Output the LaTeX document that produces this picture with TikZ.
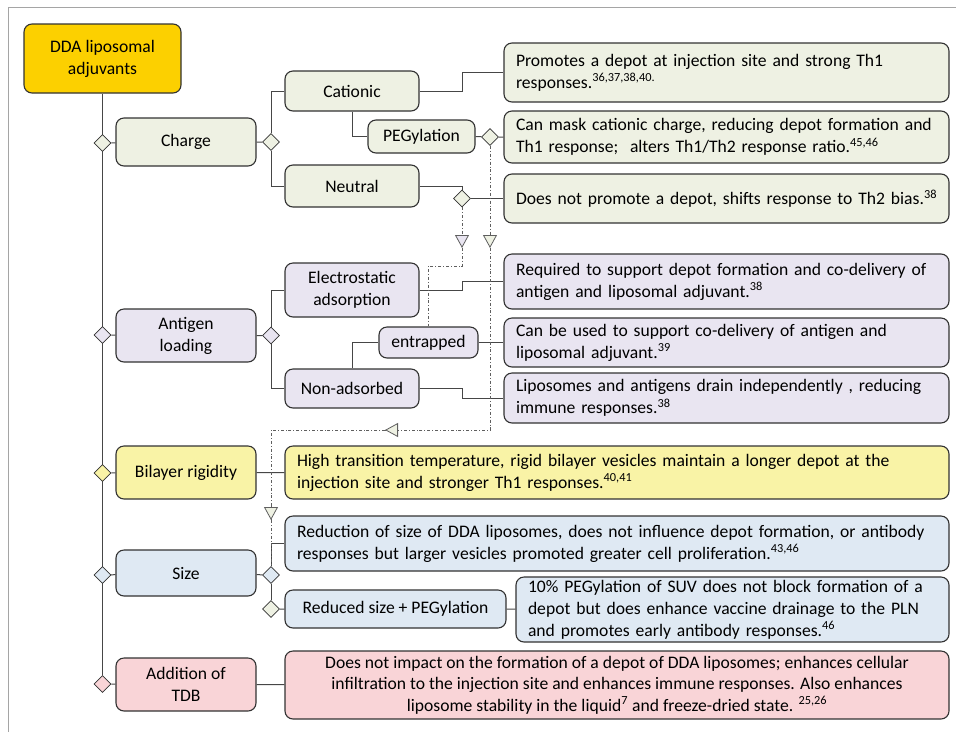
\documentclass[tikz,border=0pt]{standalone}
\usepackage{fontspec}
\setmainfont{Carlito}
\usetikzlibrary{shapes.geometric,arrows.meta,backgrounds}

\definecolor{rootfill}{RGB}{252,208,0}
\definecolor{chargefill}{RGB}{238,241,227}
\definecolor{antfill}{RGB}{233,229,241}
\definecolor{bilfill}{RGB}{249,243,166}
\definecolor{sizefill}{RGB}{223,233,243}
\definecolor{tdbfill}{RGB}{249,212,215}
\definecolor{edgec}{RGB}{50,50,50}
\definecolor{wirec}{RGB}{70,70,70}
\definecolor{hintc}{RGB}{95,95,95}
\definecolor{framec}{RGB}{165,165,165}

\tikzset{
  box/.style={draw=edgec, line width=1.1pt, rounded corners=8pt, align=center,
    inner sep=0pt, font=\fontsize{17.6}{22}\selectfont},
  desc/.style={box, align=left, inner xsep=12pt, text width=#1-24pt, minimum width=#1},
  knot/.style={diamond, draw=edgec, line width=0.8pt, minimum width=17pt, minimum height=17pt, inner sep=0pt},
  wire/.style={draw=wirec, line width=1pt},
  hint/.style={draw=hintc, line width=0.8pt, dash dot},
  tip/.style={-{Triangle[length=13pt, width=14pt, fill=#1, line width=0.8pt]}},
}

\begin{document}
\begin{tikzpicture}[x=1pt, y=-1pt]
\useasboundingbox (0,0) rectangle (956,732);
\draw[framec, line width=1pt] (8,732) -- (8,7) -- (956,7);

\node[box, fill=rootfill, minimum width=157pt, minimum height=69pt] (root) at (102.5,58.5) {DDA liposomal\\adjuvants};

% trunk diamonds
\node[knot, fill=chargefill] (dcharge) at (102.5,143) {};
\node[knot, fill=antfill] (dant) at (102.5,335) {};
\node[knot, fill=bilfill] (dbil) at (102.5,473) {};
\node[knot, fill=sizefill] (dsize) at (102.5,575) {};
\node[knot, fill=tdbfill] (dtdb) at (102.5,684) {};

% charge
\node[box, fill=chargefill, minimum width=140pt, minimum height=48pt] (charge) at (186,142) {Charge};
\node[knot, fill=chargefill] (bcharge) at (271,142) {};
\node[box, fill=chargefill, minimum width=134pt, minimum height=40pt] (cationic) at (352,91) {Cationic};
\node[box, fill=chargefill, minimum width=107pt, minimum height=33pt] (peg) at (421.5,136.5) {PEGylation};
\node[box, fill=chargefill, minimum width=134pt, minimum height=42pt] (neutral) at (352,186) {Neutral};
\node[knot, fill=chargefill] (dpeg) at (490,137) {};
\node[knot, fill=chargefill] (dneu) at (462,198.5) {};
\node[desc=445pt, fill=chargefill, minimum height=59pt] (cat) at (726.5,72.5)
  {Promotes a depot at injection site and strong Th1\\responses.\textsuperscript{36,37,38,40.}};
\node[desc=445pt, fill=chargefill, minimum height=52pt] (mask) at (726.5,137)
  {Can mask cationic charge, reducing depot formation and\\Th1 response;\ \ alters Th1/Th2 response ratio.\textsuperscript{45,46}};
\node[desc=445pt, fill=chargefill, minimum height=49pt] (shift) at (726.5,198.5)
  {\mbox{Does not promote a depot, shifts response to Th2 bias.\textsuperscript{38}}};

% antigen loading
\node[box, fill=antfill, minimum width=140pt, minimum height=53pt] (antigen) at (186,335.5) {Antigen\\loading};
\node[knot, fill=antfill] (bant) at (271,335.5) {};
\node[box, fill=antfill, minimum width=134pt, minimum height=54pt] (electro) at (352,290) {Electrostatic\\adsorption};
\node[box, fill=antfill, minimum width=99pt, minimum height=31pt] (entrap) at (428.5,342.5) {entrapped};
\node[box, fill=antfill, minimum width=134pt, minimum height=39pt] (nonads) at (352,388.5) {Non-adsorbed};
\node[desc=445pt, fill=antfill, minimum height=55pt] (req) at (726.5,281.5)
  {Required to support depot formation and co-delivery of\\antigen and liposomal adjuvant.\textsuperscript{38}};
\node[desc=445pt, fill=antfill, minimum height=49pt] (codel) at (726.5,342.5)
  {Can be used to support co-delivery of antigen and\\liposomal adjuvant.\textsuperscript{39}};
\node[desc=445pt, fill=antfill, minimum height=50pt] (drain) at (726.5,398)
  {Liposomes and antigens drain independently , reducing\\immune responses.\textsuperscript{38}};

% bilayer rigidity
\node[box, fill=bilfill, minimum width=140pt, minimum height=53pt] (bilayer) at (186,472.5) {Bilayer rigidity};
\node[desc=664pt, fill=bilfill, minimum height=53pt] (rigid) at (617,472.5)
  {High transition temperature, rigid bilayer vesicles maintain a longer depot at the\\injection site and stronger Th1 responses.\textsuperscript{40,41}};

% size
\node[box, fill=sizefill, minimum width=140pt, minimum height=46pt] (size) at (186,573) {Size};
\node[knot, fill=sizefill] (bsize) at (271,575) {};
\node[knot, fill=chargefill] (dred) at (271,609) {};
\node[box, fill=sizefill, minimum width=221pt, minimum height=38pt] (reduced) at (395.5,609) {Reduced size + PEGylation};
\node[desc=664pt, fill=sizefill, minimum height=55pt] (reduce) at (617,543.5)
  {Reduction of size of DDA liposomes, does not influence depot formation, or antibody\\responses but larger vesicles promoted greater cell proliferation.\textsuperscript{43,46}};
\node[desc=433pt, fill=sizefill, minimum height=65pt] (suv) at (732.5,609.5)
  {10\% PEGylation of SUV does not block formation of a\\depot but does enhance vaccine drainage to the PLN\\and promotes early antibody responses.\textsuperscript{46}};

% TDB
\node[box, fill=tdbfill, minimum width=140pt, minimum height=53pt] (tdb) at (186,684.5) {Addition of\\TDB};
\node[box, fill=tdbfill, minimum width=664pt, minimum height=68pt, font=\fontsize{17.6}{21.5}\selectfont] (stab) at (617,685)
  {Does not impact on the formation of a depot of DDA liposomes; enhances cellular\\infiltration to the injection site and enhances immune responses. Also enhances\\liposome stability in the liquid\textsuperscript{7} and freeze-dried state. \textsuperscript{25,26}};

% markers on the dash-dot links
\coordinate (tneu) at (462,248);
\coordinate (tpeg) at (490,248);
\coordinate (tleft) at (385,430);
\coordinate (tsize) at (271,520);

\begin{scope}[on background layer]
  \draw[wire] (root.south) -- (dtdb.north);
  \draw[wire] (dcharge) -- (charge) -- (bcharge);
  \draw[wire] (cationic.west) -| (bcharge.north);
  \draw[wire] (neutral.west) -| (bcharge.south);
  \draw[wire] (cationic.south) |- (peg.west);
  \draw[wire] (cationic.east) -- ++(43,0) |- (cat.west);
  \draw[wire] (peg.east) -- (dpeg) -- (mask.west);
  \draw[wire] (neutral.east) -| (dneu.north);
  \draw[wire] (dneu) -- (shift.west);

  \draw[wire] (dant) -- (antigen) -- (bant);
  \draw[wire] (electro.west) -| (bant.north);
  \draw[wire] (nonads.west) -| (bant.south);
  \draw[wire] (nonads.north) |- (entrap.west);
  \draw[wire] (electro.east) -- ++(43,0) |- (req.west);
  \draw[wire] (entrap.east) -- (codel.west);
  \draw[wire] (nonads.east) -- ++(43,0) |- (drain.west);

  \draw[wire] (dbil) -- (bilayer) -- (rigid);

  \draw[wire] (dsize) -- (size) -- (bsize);
  \draw[wire] (bsize.north) |- (reduce.west);
  \draw[wire] (bsize) -- (dred);
  \draw[wire] (dred) -- (reduced) -- (suv);

  \draw[wire] (dtdb) -- (tdb) -- (stab);

  % dash-dot links
  \draw[hint] (tneu) -- ++(0,18) -| (entrap.north);
  \draw[hint] (tpeg) |- (tleft);
  \draw[hint] (tleft) -| (tsize);
  \draw[hint] (tsize) -- (bsize.north);
\end{scope}
\draw[hint, tip=antfill] (dneu.south) -- (tneu);
\draw[hint, tip=chargefill] (dpeg.south) -- (tpeg);
\draw[hint, tip=chargefill] ([xshift=13pt]tleft) -- (tleft);
\draw[hint, tip=chargefill] ([yshift=14pt]tsize) -- (tsize);
\end{tikzpicture}
\end{document}
